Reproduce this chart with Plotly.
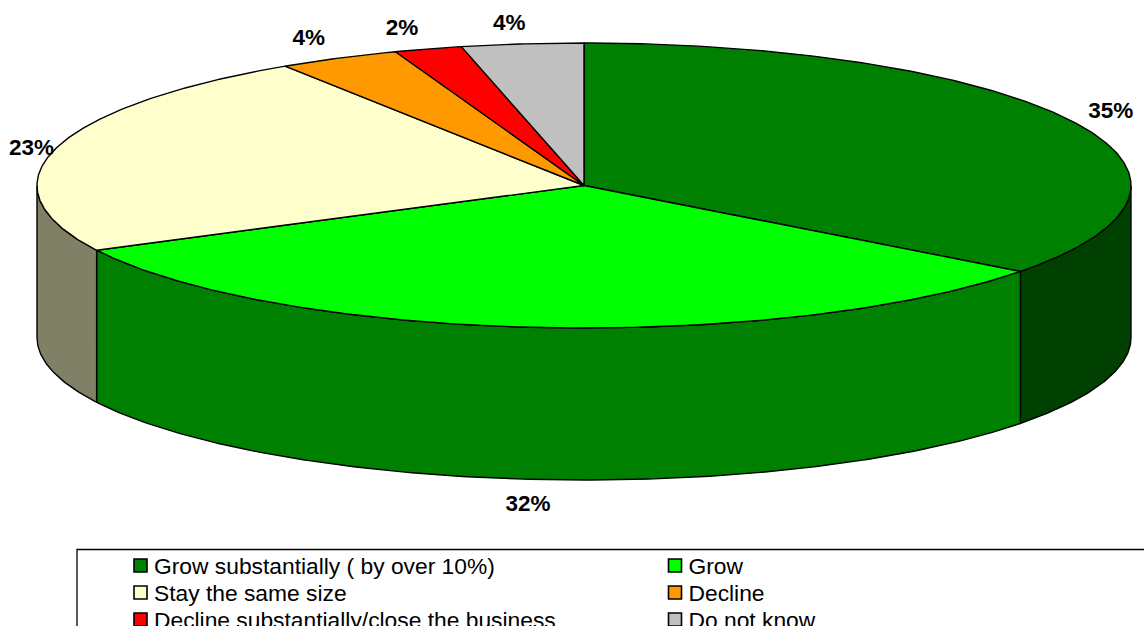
import numpy as np
import plotly.graph_objects as go

# Survey answers, share of respondents in percent
categories = [
    "Grow substantially ( by over 10%)",
    "Grow",
    "Stay the same size",
    "Decline",
    "Decline substantially/close the business",
    "Do not know",
]
shares = [35.3, 32.2, 23.3, 3.6, 2.0, 3.6]
top_colors = ["#008000", "#00FF00", "#FFFFCC", "#FF9900", "#FF0000", "#C0C0C0"]
wall_colors = ["#004000", "#008000", "#808066", "#804D00", "#800000", "#606060"]

# Disc geometry on a pixel-sized plotting area
CX, CY, RX, RY, DEPTH = 584.0, 185.5, 547.0, 142.5, 152.0
OUTLINE = dict(color="#000000", width=1.4)
FONT = "Liberation Sans, Arial, sans-serif"

# Label offsets from the rim point at each slice's middle angle
label_offsets = [(37, -10), (-8, 178), (-24, 1), (-30, -19), (-26, -20), (-13, -20)]


def rim(angle_deg):
    a = np.radians(angle_deg)
    return CX + RX * np.sin(a), CY - RY * np.cos(a)


def arc(start, end):
    steps = max(2, int(abs(end - start) * 2) + 1)
    return rim(np.linspace(start, end, steps))


edges = np.concatenate([[0.0], np.cumsum(shares)]) / sum(shares) * 360.0

fig = go.Figure()


def add_polygon(xs, ys, color):
    fig.add_trace(go.Scatter(
        x=xs, y=ys, mode="lines", fill="toself", fillcolor=color,
        line=OUTLINE, hoverinfo="skip", showlegend=False,
    ))


# Outer wall: only the part of each slice on the front half of the disc
for i, color in enumerate(wall_colors):
    start, end = max(edges[i], 90.0), min(edges[i + 1], 270.0)
    if start >= end:
        continue
    xs, ys = arc(start, end)
    add_polygon(
        np.concatenate([xs, xs[::-1], xs[:1]]),
        np.concatenate([ys, ys[::-1] + DEPTH, ys[:1]]),
        color,
    )

# Top face of each slice
for i, color in enumerate(top_colors):
    xs, ys = arc(edges[i], edges[i + 1])
    add_polygon(
        np.concatenate([[CX], xs, [CX]]),
        np.concatenate([[CY], ys, [CY]]),
        color,
    )

# Percentage labels
mids = (edges[:-1] + edges[1:]) / 2
lx, ly = rim(mids)
fig.add_trace(go.Scatter(
    x=lx + np.array([o[0] for o in label_offsets]),
    y=ly + np.array([o[1] for o in label_offsets]),
    mode="text",
    text=[f"{round(s)}%" for s in shares],
    textposition="middle center",
    textfont=dict(family=FONT, size=22.5, color="#000000"),
    texttemplate="<b>%{text}</b>",
    hoverinfo="skip", showlegend=False,
))

# Two-column key, running past the bottom and right of the page
key_columns = [133.0 + 7.5, 668.0 + 7.0]
key_rows = [565.5, 592.5, 619.5]
key_x = [key_columns[i % 2] for i in range(len(categories))]
key_y = [key_rows[i // 2] for i in range(len(categories))]
fig.add_trace(go.Scatter(
    x=key_x, y=key_y, mode="markers",
    marker=dict(symbol="square", size=13, color=top_colors,
                line=dict(color="#000000", width=1.6)),
    hoverinfo="skip", showlegend=False,
))
fig.add_trace(go.Scatter(
    x=[x + 13.5 for x in key_x], y=[y + 2.5 for y in key_y], mode="text",
    text=categories, textposition="middle right",
    textfont=dict(family=FONT, size=22.8, color="#000000"),
    hoverinfo="skip", showlegend=False,
))

fig.update_layout(
    width=1144, height=626,
    margin=dict(l=0, r=0, t=0, b=0),
    paper_bgcolor="#FFFFFF", plot_bgcolor="#FFFFFF",
    xaxis=dict(range=[0, 1144], visible=False, fixedrange=True),
    yaxis=dict(range=[626, 0], visible=False, fixedrange=True),
    shapes=[dict(
        type="rect", xref="x", yref="y", x0=77, x1=1160, y0=549.5, y1=640,
        line=dict(color="#000000", width=1.3), fillcolor="rgba(0,0,0,0)",
        layer="below",
    )],
)

fig.write_html("out.html")
